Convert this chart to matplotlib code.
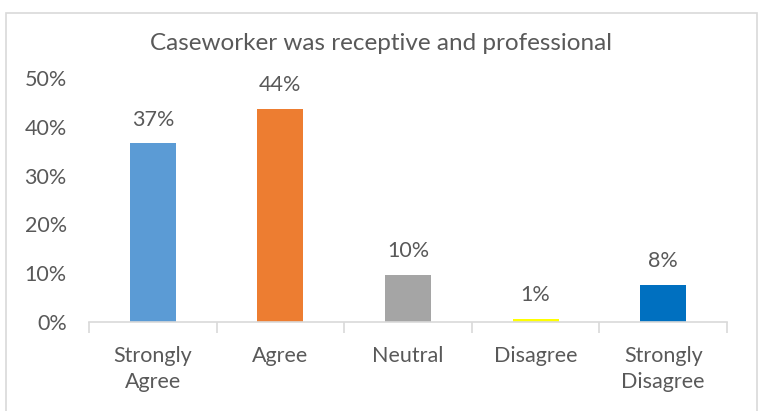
import matplotlib.pyplot as plt
import matplotlib.patches as mpatches
from matplotlib.ticker import PercentFormatter

categories = ["Strongly\nAgree", "Agree", "Neutral", "Disagree", "Strongly\nDisagree"]
shares = [0.366, 0.436, 0.096, 0.006, 0.076]
bar_colors = ["#5B9BD5", "#ED7D31", "#A5A5A5", "#FFFF00", "#0070C0"]
title = "Caseworker was receptive and professional"

plt.rcParams["font.family"] = ["Lato", "DejaVu Sans"]
text_gray = "#595959"
line_gray = "#D9D9D9"

fig = plt.figure(figsize=(7.63, 4.11), dpi=100)
ax = fig.add_axes([89 / 763, 1 - 322 / 411, (727 - 89) / 763, (322 - 78) / 411])

x = list(range(len(categories)))
ax.bar(x, shares, width=0.36, color=bar_colors)
for xi, v in zip(x, shares):
    ax.annotate(f"{v:.0%}", (xi, v), xytext=(0, 10), textcoords="offset points",
                ha="center", va="bottom", fontsize=15.5, color=text_gray)

ax.set_xlim(-0.5, len(categories) - 0.5)
ax.set_ylim(0, 0.5)
ax.set_yticks([0, 0.1, 0.2, 0.3, 0.4, 0.5])
ax.yaxis.set_major_formatter(PercentFormatter(1.0, decimals=0))
ax.set_xticks(x)
ax.set_xticklabels(categories, fontsize=15.5, color=text_gray, linespacing=1.4)
ax.set_xticks([i - 0.5 for i in range(len(categories) + 1)], minor=True)
ax.tick_params(axis="x", which="major", length=0, pad=17)
ax.tick_params(axis="x", which="minor", length=8, color=line_gray, width=1.2)
ax.tick_params(axis="y", length=0, labelsize=15.5, labelcolor=text_gray, pad=16)

for side in ["top", "right", "left"]:
    ax.spines[side].set_visible(False)
ax.spines["bottom"].set_color(line_gray)
ax.spines["bottom"].set_linewidth(1.2)

fig.text(0.5, 1 - 43 / 411, title, ha="center", va="center", fontsize=17.5, color=text_gray)

# chart area border
fig.patches.append(mpatches.Rectangle((6 / 763, -0.05), (757 - 6) / 763, 1 - 13 / 411 + 0.05,
                                      transform=fig.transFigure, fill=False,
                                      edgecolor=line_gray, linewidth=1.2))

fig.savefig("out.png", dpi=100)
